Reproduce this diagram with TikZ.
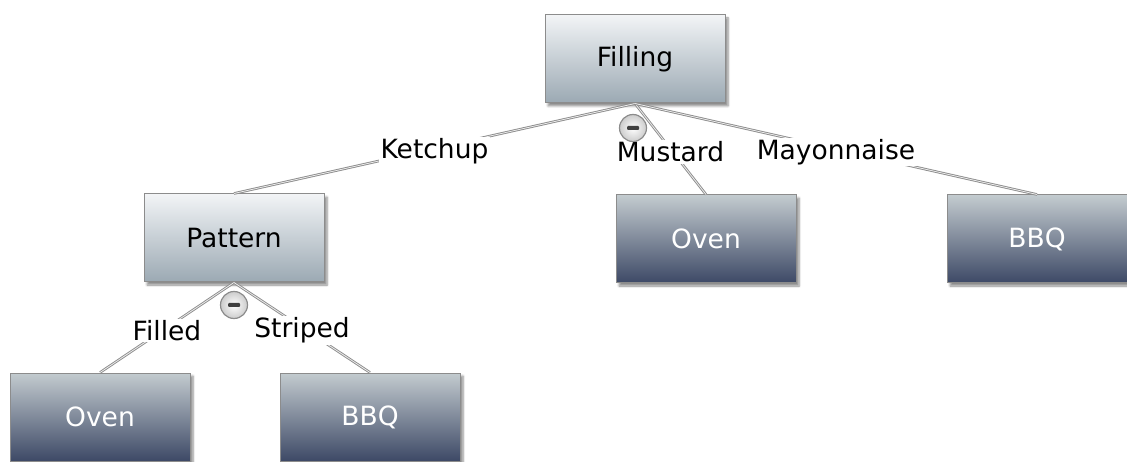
\documentclass[tikz,border=0pt]{standalone}
\usepackage{fontspec}
\setmainfont{DejaVu Sans}
\usetikzlibrary{shadows.blur}
\definecolor{lighttop}{HTML}{F2F4F6}
\definecolor{lightbot}{HTML}{9BA9B3}
\definecolor{darktop}{HTML}{C3CBCF}
\definecolor{darkbot}{HTML}{3D4966}
\definecolor{edgegray}{HTML}{8C8C8C}
\tikzset{
  box/.style={rectangle, draw=edgegray, line width=1pt,
    minimum width=180pt, minimum height=88pt, inner sep=0pt,
    font=\fontsize{26.5}{30}\selectfont,
    blur shadow={shadow xshift=3pt, shadow yshift=-3pt, shadow blur steps=6, shadow opacity=45}},
  featbox/.style={box, top color=lighttop, bottom color=lightbot, text=black},
  leafbox/.style={box, top color=darktop, bottom color=darkbot, text=white},
  link/.style={draw=edgegray, line width=2.6pt},
  linkcore/.style={draw=gray!15, line width=0.8pt},
  lbl/.style={fill=white, inner sep=1.5pt, text=black, yshift=-3pt,
    font=\fontsize{26.5}{30}\selectfont},
  minus/.style={circle, draw=edgegray, line width=1.2pt, minimum size=27pt, inner sep=0pt,
    inner color=white, outer color=gray!40}
}
\begin{document}
\begin{tikzpicture}[x=1pt, y=-1pt]
  \useasboundingbox (0,0) rectangle (1127,462);

  % feature boxes
  \node[featbox] (fill) at (635,59) {Filling};
  \node[featbox] (pat)  at (234,238) {Pattern};
  % leaf boxes
  \node[leafbox] (oven1) at (706,239) {Oven};
  \node[leafbox] (bbq1)  at (1037,239) {BBQ};
  \node[leafbox] (oven2) at (100,417) {Oven};
  \node[leafbox] (bbq2)  at (370,417) {BBQ};

  % connectors from Filling
  \foreach \c in {pat, oven1, bbq1} {
    \draw[link] (fill.south) -- (\c.north);
    \draw[linkcore] (fill.south) -- (\c.north);
  }
  % connectors from Pattern
  \foreach \c in {oven2, bbq2} {
    \draw[link] (pat.south) -- (\c.north);
    \draw[linkcore] (pat.south) -- (\c.north);
  }

  % connector labels
  \path (fill.south) -- (pat.north)   node[lbl, midway] (lk) {Ketchup};
  \path (fill.south) -- (oven1.north) node[lbl, midway] (lm) {Mustard};
  \path (fill.south) -- (bbq1.north)  node[lbl, midway] (ly) {Mayonnaise};
  \path (pat.south) -- (oven2.north)  node[lbl, midway] (lf) {Filled};
  \path (pat.south) -- (bbq2.north)   node[lbl, midway] (ls) {Striped};

  % alternative markers
  \node[minus] (m1) at (633,128) {};
  \fill[black!75, rounded corners=1pt] ([xshift=-6pt, yshift=-2pt]m1.center) rectangle ([xshift=6pt, yshift=2pt]m1.center);
  \node[minus] (m2) at (234,305) {};
  \fill[black!75, rounded corners=1pt] ([xshift=-6pt, yshift=-2pt]m2.center) rectangle ([xshift=6pt, yshift=2pt]m2.center);
\end{tikzpicture}
\end{document}
